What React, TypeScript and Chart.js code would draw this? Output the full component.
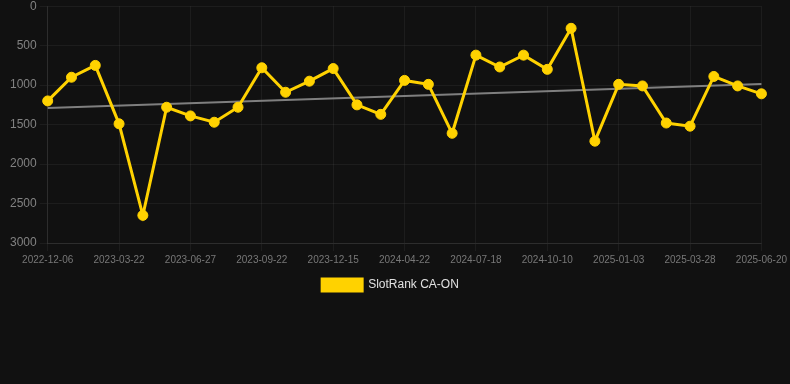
import React, { useEffect, useRef } from "react";
import { Chart, registerables } from "chart.js";

Chart.register(...registerables);

const labels: string[] = [
  "2022-12-06", "2023-01-10", "2023-02-14",
  "2023-03-22", "2023-04-25", "2023-05-26",
  "2023-06-27", "2023-07-26", "2023-08-24",
  "2023-09-22", "2023-10-20", "2023-11-17",
  "2023-12-15", "2024-01-26", "2024-03-08",
  "2024-04-22", "2024-05-21", "2024-06-19",
  "2024-07-18", "2024-08-15", "2024-09-12",
  "2024-10-10", "2024-11-07", "2024-12-05",
  "2025-01-03", "2025-01-31", "2025-02-28",
  "2025-03-28", "2025-04-25", "2025-05-23",
  "2025-06-20",
];

const rankValues: number[] = [
  1200, 900, 750,
  1490, 2650, 1280,
  1390, 1470, 1280,
  780, 1090, 950,
  790, 1250, 1370,
  940, 990, 1610,
  620, 770, 620,
  800, 280, 1710,
  990, 1010, 1480,
  1520, 890, 1010,
  1110,
];

const trendStart = 1290;
const trendEnd = 985;

const yTicks: number[] = [0, 500, 1000, 1500, 2000, 2500, 3000];

const legendShift = {
  id: "legendShift",
  afterLayout(chart: any) {
    const lg = chart.legend;
    if (lg) {
      lg.left = 0;
      lg.right = 781;
    }
  },
};

export default function App() {
  const ref = useRef<HTMLCanvasElement | null>(null);

  useEffect(() => {
    if (!ref.current) return;
    const trend: (number | null)[] = labels.map((_, i) =>
      i === 0 ? trendStart : i === labels.length - 1 ? trendEnd : null
    );
    const chart = new Chart(ref.current, {
      type: "line",
      data: {
        labels,
        datasets: [
          {
            label: "SlotRank CA-ON",
            data: rankValues,
            borderColor: "rgb(255,210,0)",
            backgroundColor: "rgb(255,210,0)",
            borderWidth: 3,
            pointRadius: 5,
            pointHoverRadius: 5,
            pointBackgroundColor: "rgb(255,210,0)",
            pointBorderColor: "rgb(255,210,0)",
            pointBorderWidth: 1,
            tension: 0,
          },
          {
            label: "Trend",
            data: trend,
            borderColor: "rgba(140,140,140,0.9)",
            backgroundColor: "rgba(140,140,140,0.9)",
            borderWidth: 2,
            pointRadius: 0,
            spanGaps: true,
            tension: 0,
          },
        ],
      },
      plugins: [legendShift],
      options: {
        animation: false,
        responsive: false,
        maintainAspectRatio: false,
        layout: { padding: { left: 7, right: 0, top: 0, bottom: 0 } },
        plugins: {
          legend: {
            position: "bottom",
            labels: {
              color: "rgb(225,225,225)",
              boxWidth: 40,
              boxHeight: 12,
              font: { size: 12, family: "Arial, Liberation Sans, sans-serif" },
              filter: (item) => item.text !== "Trend",
            },
          },
          tooltip: { enabled: false },
        },
        scales: {
          x: {
            grid: { color: "rgba(255,255,255,0.05)", tickColor: "rgba(255,255,255,0.05)" },
            border: { color: "rgba(255,255,255,0.08)" },
            ticks: {
              color: "rgb(120,120,120)",
              maxRotation: 0,
              autoSkip: true,
              maxTicksLimit: 11,
              font: { size: 10, family: "Arial, Liberation Sans, sans-serif" },
            },
          },
          y: {
            reverse: true,
            min: 0,
            max: 3000,
            grid: { color: "rgba(255,255,255,0.05)", tickColor: "rgba(255,255,255,0.05)" },
            border: { color: "rgba(255,255,255,0.08)" },
            afterBuildTicks: (axis) => {
              axis.ticks = yTicks.map((v) => ({ value: v }));
            },
            ticks: {
              color: "rgb(130,130,130)",
              font: { size: 12, family: "Arial, Liberation Sans, sans-serif" },
              callback: (v) => String(v),
            },
          },
        },
      },
    });
    return () => chart.destroy();
  }, []);

  return (
    <div
      style={{
        position: "absolute",
        left: 0,
        top: 0,
        width: 790,
        height: 384,
        overflow: "hidden",
        background: "rgb(17,17,17)",
      }}
    >
      <canvas
        ref={ref}
        width={790}
        height={305}
        style={{ display: "block", position: "absolute", left: 0, top: -4 }}
      />
    </div>
  );
}
